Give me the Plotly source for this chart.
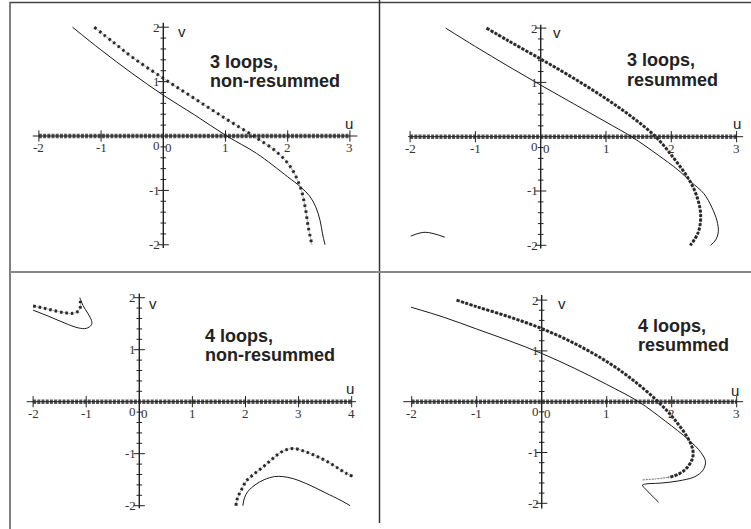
import plotly.graph_objects as go

W, H = 751, 529

# ---------------- data ----------------
# Panel 1: 3 loops, non-resummed
p1_solid_u = [-1.46, -1.0, -0.5, 0.0, 0.5, 1.02, 1.5, 2.0, 2.2, 2.35, 2.45, 2.52, 2.56, 2.6]
p1_solid_v = [2.0, 1.58, 1.15, 0.75, 0.39, 0.0, -0.32, -0.75, -0.93, -1.1, -1.3, -1.55, -1.8, -2.0]
p1_dot_u = [-1.11, -0.8, -0.5, 0.0, 0.5, 1.0, 1.45, 1.82, 2.04, 2.2, 2.28, 2.33, 2.39]
p1_dot_v = [2.0, 1.72, 1.45, 1.06, 0.69, 0.32, 0.0, -0.29, -0.56, -0.93, -1.3, -1.67, -2.0]

# Panel 2: 3 loops, resummed
p2_solid_u = [-1.455, -1.0, -0.5, 0.0, 0.5, 1.0, 1.39, 1.8, 2.1, 2.3, 2.5, 2.62, 2.7, 2.72, 2.68, 2.6]
p2_solid_v = [2.0, 1.66, 1.30, 0.95, 0.61, 0.27, 0.0, -0.34, -0.61, -0.83, -1.05, -1.3, -1.55, -1.75, -1.9, -2.0]
p2_arc_u = [-1.99, -1.77, -1.47]
p2_arc_v = [-1.83, -1.76, -1.85]
p2_dot_u = [-0.83, -0.5, 0.0, 0.5, 1.0, 1.4, 1.76, 2.06, 2.29, 2.41, 2.45, 2.41, 2.29]
p2_dot_v = [2.0, 1.77, 1.43, 1.08, 0.70, 0.36, 0.0, -0.43, -0.83, -1.17, -1.47, -1.77, -2.0]

# Panel 3: 4 loops, non-resummed
p3_dot_a_u = [-2.0, -1.8, -1.6, -1.4, -1.25, -1.15, -1.11, -1.11, -1.12]
p3_dot_a_v = [1.84, 1.8, 1.75, 1.71, 1.70, 1.74, 1.82, 1.92, 2.0]
p3_solid_a_u = [-2.0, -1.7, -1.4, -1.15, -1.0, -0.9, -0.9, -0.97, -1.06, -1.12]
p3_solid_a_v = [1.76, 1.64, 1.51, 1.42, 1.41, 1.48, 1.56, 1.7, 1.85, 2.0]
p3_dot_b_u = [1.82, 1.85, 1.92, 2.02, 2.15, 2.3, 2.45, 2.6, 2.75, 2.9, 3.1, 3.3, 3.5, 3.7, 3.9, 4.03]
p3_dot_b_v = [-2.0, -1.85, -1.7, -1.52, -1.4, -1.28, -1.15, -1.02, -0.93, -0.9, -0.95, -1.03, -1.13, -1.25, -1.38, -1.44]
p3_solid_b_u = [1.95, 1.98, 2.05, 2.18, 2.35, 2.55, 2.7, 2.9, 3.2, 3.5, 3.8, 3.97]
p3_solid_b_v = [-2.0, -1.85, -1.72, -1.6, -1.5, -1.44, -1.44, -1.48, -1.6, -1.75, -1.9, -2.0]

# Panel 4: 4 loops, resummed
p4_solid_u = [-2.01, -1.5, -1.0, -0.5, 0.0, 0.5, 1.0, 1.49, 1.9, 2.26, 2.45, 2.52, 2.48, 2.35, 2.1, 1.85, 1.6, 1.55, 1.62, 1.72, 1.8]
p4_solid_v = [1.86, 1.66, 1.43, 1.2, 0.95, 0.66, 0.34, 0.0, -0.38, -0.75, -1.0, -1.18, -1.35, -1.48, -1.56, -1.6, -1.62, -1.64, -1.75, -1.88, -1.98]
p4_dot_u = [-1.31, -1.0, -0.5, 0.0, 0.5, 1.0, 1.4, 1.79, 2.05, 2.28, 2.33, 2.31, 2.22, 2.1, 1.95]
p4_dot_v = [2.0, 1.87, 1.67, 1.44, 1.15, 0.79, 0.43, 0.0, -0.36, -0.79, -1.0, -1.15, -1.32, -1.43, -1.49]
p4_tail_u = [1.95, 1.75, 1.55]
p4_tail_v = [-1.49, -1.52, -1.54]

xticks_3 = [-2, -1, 1, 2, 3]
xticks_4 = [-2, -1, 1, 2, 3, 4]
yticks = [-2, -1, 1, 2]
titles = [("3 loops,", "non-resummed"), ("3 loops,", "resummed"),
          ("4 loops,", "non-resummed"), ("4 loops,", "resummed")]

# ---------------- layout geometry (pixels) ----------------
panels = [
    dict(o=(163.3, 136.0), unit=(62.2, 54.4), box=(12, 4, 377, 270),
         xa=(-2.1, 3.12), ya=(-2.06, 2.08), beads=(-2.0, 3.0), xt=xticks_3, dash="2.5px,3.5px",
         title_px=(209, 68.3, 87.3), v_px=(181.7, 31.7), u_px=(349.3, 123.3)),
    dict(o=(540.7, 136.7), unit=(65.3, 54.3), box=(382, 4, 749, 270),
         xa=(-2.03, 3.1), ya=(-2.06, 2.06), beads=(-2.0, 3.0), xt=xticks_3, dash="3px,1.5px",
         title_px=(625.7, 66.7, 86.7), v_px=(556.7, 32.3), u_px=(736.7, 123.3)),
    dict(o=(139.3, 401.7), unit=(53.1, 52.0), box=(12, 274, 377, 527),
         xa=(-2.12, 4.08), ya=(-2.05, 2.08), beads=(-2.0, 4.0), xt=xticks_4, dash="2.5px,3px",
         title_px=(204, 342.7, 361.0), v_px=(152.7, 303.3), u_px=(350.0, 388.3)),
    dict(o=(541.7, 401.7), unit=(65.0, 50.8), box=(382, 274, 749, 527),
         xa=(-2.13, 3.1), ya=(-2.1, 2.1), beads=(-2.0, 3.0), xt=xticks_3, dash="3px,1.5px",
         title_px=(636.7, 332.7, 351.7), v_px=(561.7, 303.3), u_px=(735.0, 390.0)),
]

curves = [
    [("solid", p1_solid_u, p1_solid_v), ("dot", p1_dot_u, p1_dot_v)],
    [("solid", p2_solid_u, p2_solid_v), ("solid", p2_arc_u, p2_arc_v), ("dot", p2_dot_u, p2_dot_v)],
    [("solid", p3_solid_a_u, p3_solid_a_v), ("dot", p3_dot_a_u, p3_dot_a_v),
     ("solid", p3_solid_b_u, p3_solid_b_v), ("dot", p3_dot_b_u, p3_dot_b_v)],
    [("solid", p4_solid_u, p4_solid_v), ("dot", p4_dot_u, p4_dot_v), ("thin", p4_tail_u, p4_tail_v)],
]

fig = go.Figure()
annotations = []
layout = {}
AX = "#222222"
minor = [round(-2 + 0.2 * i, 1) for i in range(21) if i % 5]

for k, p in enumerate(panels, start=1):
    ox, oy = p["o"]
    ux, uy = p["unit"]
    x0, y0, x1, y1 = p["box"]
    xs = "x" if k == 1 else f"x{k}"
    ys = "y" if k == 1 else f"y{k}"
    xn = "xaxis" if k == 1 else f"xaxis{k}"
    yn = "yaxis" if k == 1 else f"yaxis{k}"
    layout[xn] = dict(domain=[x0 / W, x1 / W], range=[(x0 - ox) / ux, (x1 - ox) / ux],
                      visible=False, anchor=ys, fixedrange=True)
    layout[yn] = dict(domain=[1 - y1 / H, 1 - y0 / H], range=[(oy - y1) / uy, (oy - y0) / uy],
                      visible=False, anchor=xs, fixedrange=True)

    def tr(**kw):
        fig.add_trace(go.Scatter(xaxis=xs, yaxis=ys, showlegend=False, hoverinfo="skip", **kw))

    # beaded horizontal axis (v = 0 branch)
    tr(x=list(p["beads"]), y=[0, 0], mode="lines", line=dict(color="#555555", width=4.5, dash="3px,1.2px"))
    # axes lines
    tr(x=list(p["xa"]), y=[0, 0], mode="lines", line=dict(color=AX, width=1))
    tr(x=[0, 0], y=list(p["ya"]), mode="lines", line=dict(color=AX, width=1.4))
    # ticks
    tr(x=[0] * len(yticks), y=yticks, mode="markers",
       marker=dict(symbol="line-ew", size=8, line=dict(color=AX, width=1)))
    tr(x=[0] * len(minor), y=minor, mode="markers",
       marker=dict(symbol="line-ew", size=4, line=dict(color=AX, width=1)))
    tr(x=p["xt"], y=[0] * len(p["xt"]), mode="markers",
       marker=dict(symbol="line-ns", size=8, line=dict(color=AX, width=1)))

    # curves
    for kind, cu, cv in curves[k - 1]:
        if kind == "solid":
            tr(x=cu, y=cv, mode="lines", line=dict(color="#1a1a1a", width=1, shape="spline"))
        elif kind == "thin":
            tr(x=cu, y=cv, mode="lines", line=dict(color="#666666", width=1, dash="2px,1px", shape="spline"))
        else:
            tr(x=cu, y=cv, mode="lines", line=dict(color="#999999", width=0.8, shape="spline"))
            tr(x=cu, y=cv, mode="lines", line=dict(color="#2a2a2a", width=3, dash=p["dash"], shape="spline"))

    tf = dict(family="Liberation Serif, Times New Roman, serif", size=13, color="#333333")
    for t in p["xt"]:
        annotations.append(dict(x=t, y=0, xref=xs, yref=ys, text=str(t),
                                showarrow=False, xanchor="center", yanchor="top", yshift=-2, font=tf))
    for t in yticks:
        annotations.append(dict(x=0, y=t, xref=xs, yref=ys, text=str(t), showarrow=False,
                                xanchor="right", yanchor="middle", xshift=-1, font=tf))
    annotations.append(dict(x=0, y=0, xref=xs, yref=ys, text="0", showarrow=False,
                            xanchor="right", yanchor="top", xshift=-1, yshift=0, font=tf))
    annotations.append(dict(x=0, y=0, xref=xs, yref=ys, text="0", showarrow=False,
                            xanchor="left", yanchor="top", xshift=0, yshift=-2, font=tf))

    lf = dict(family="Liberation Sans, Arial, sans-serif", size=15, color="#222222")
    vx, vy = p["v_px"]
    uxp, uyp = p["u_px"]
    annotations.append(dict(x=vx / W, y=1 - vy / H, xref="paper", yref="paper", text="v",
                            showarrow=False, xanchor="center", yanchor="middle", font=lf))
    annotations.append(dict(x=uxp / W, y=1 - uyp / H, xref="paper", yref="paper", text="u",
                            showarrow=False, xanchor="center", yanchor="middle", font=lf))

    bf = dict(family="Liberation Sans, Arial, sans-serif", size=18, color="#222222")
    tx, b1, b2 = p["title_px"]
    for txt, base in zip(titles[k - 1], (b1, b2)):
        annotations.append(dict(x=tx / W, y=1 - (base - 6.5) / H, xref="paper", yref="paper",
                                text=f"<b>{txt}</b>", showarrow=False, xanchor="left",
                                yanchor="middle", xshift=-1, font=bf))

shapes = [
    dict(type="line", xref="paper", yref="paper", x0=10 / W, x1=10 / W, y0=0, y1=1 - 2 / H,
         line=dict(color="#808080", width=2)),
    dict(type="line", xref="paper", yref="paper", x0=10 / W, x1=1, y0=1 - 2.5 / H, y1=1 - 2.5 / H,
         line=dict(color="#444444", width=1.5)),
    dict(type="line", xref="paper", yref="paper", x0=379.5 / W, x1=379.5 / W, y0=1 - 523 / H, y1=1,
         line=dict(color="#333333", width=1.5)),
    dict(type="line", xref="paper", yref="paper", x0=10 / W, x1=1, y0=1 - 272 / H, y1=1 - 272 / H,
         line=dict(color="#888888", width=2)),
]

fig.update_layout(width=W, height=H, margin=dict(l=0, r=0, t=0, b=0),
                  paper_bgcolor="white", plot_bgcolor="white",
                  annotations=annotations, shapes=shapes, **layout)
fig.write_html("out.html", config={"displayModeBar": False, "staticPlot": True},
               post_script="document.body.style.margin='0';document.body.style.overflow='hidden';")
